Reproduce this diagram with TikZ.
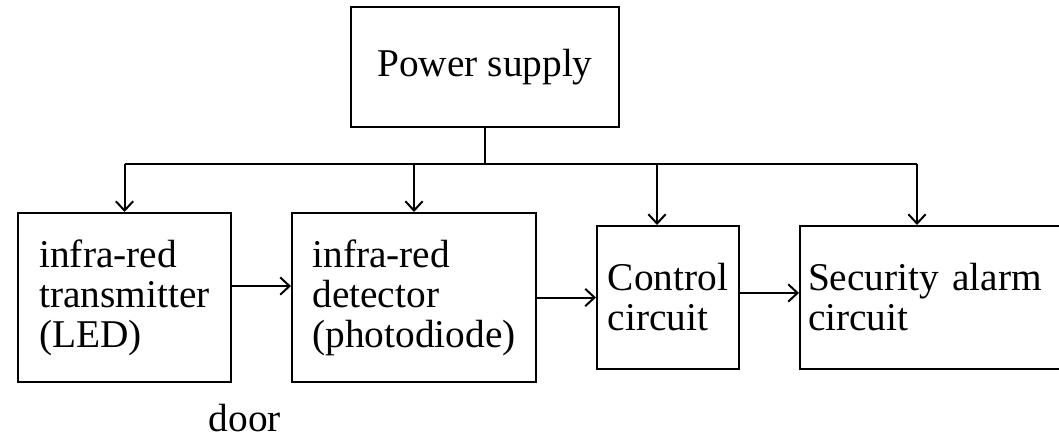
\documentclass[tikz,border=0pt]{standalone}
\usepackage{fontspec}
\setmainfont{Liberation Serif}
\usetikzlibrary{arrows.meta,positioning}

\begin{document}
\begin{tikzpicture}[
  font=\fontsize{29.5}{30}\selectfont, >={Straight Barb[length=7pt,width=13pt]},
  line width=1.5pt, node distance=44.25pt,
  blk/.style={draw, align=left, minimum height=126.75pt},
  sblk/.style={draw, align=left, minimum height=107.25pt},
]
\useasboundingbox (0,0) rectangle (794.25pt,-330pt);
% the chain of blocks
\node[blk, minimum width=159.75pt] (tx) at (93.375pt,-223.125pt) {infra-red\\transmitter\\(LED)};
\node[blk, minimum width=183pt, right=of tx] (det) {infra-red\\detector\\(photodiode)};
\node[sblk, minimum width=106.5pt, right=of det] (ctl) {Control\\circuit};
\node[sblk, text width=195pt, inner xsep=6pt, right=of ctl] (alarm) {Security alarm\\circuit};
% supply on top
\node[draw, minimum width=201pt, minimum height=90pt, above=63pt of det, xshift=53.25pt] (pwr) {Power supply};
\node[inner sep=0pt, below=15pt of tx.south east, xshift=9.75pt] (door) {door};
% supply bus
\coordinate[below=27pt of pwr.south] (bus);
\coordinate (cdrop) at ([xshift=-8.25pt]ctl.north);
\coordinate (adrop) at ([xshift=88.5pt]alarm.north west);
\draw (pwr.south) -- (bus);
\draw (bus -| tx.north) -- (bus -| adrop);
\draw[->] (bus -| tx.north) -- (tx.north);
\draw[->] (bus -| det.north) -- (det.north);
\draw[->] (bus -| cdrop) -- (cdrop);
\draw[->] (bus -| adrop) -- (adrop);
% signal path
\draw[->] ([yshift=8.6pt]tx.east) -- ([yshift=8.6pt]det.west);
\draw[->] (det) -- (ctl);
\draw[->] ([yshift=3.4pt]ctl.east) -- ([yshift=3.4pt]alarm.west);
\end{tikzpicture}
\end{document}
